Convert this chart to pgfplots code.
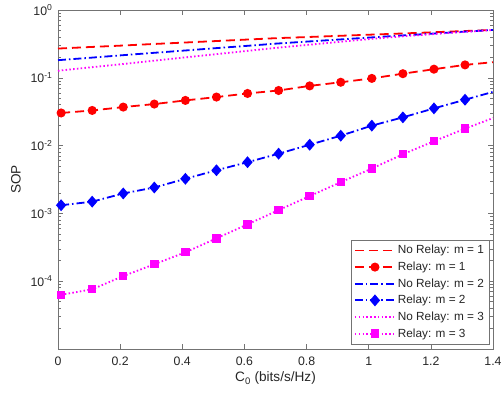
\documentclass[border=0pt]{standalone}
\usepackage{fontspec}
\setmainfont{Liberation Sans}
\usepackage{pgfplots}
\pgfplotsset{compat=1.18}
\definecolor{axgray}{gray}{0.45}
\definecolor{txt}{gray}{0.15}
\definecolor{mag}{rgb}{1,0,1}
\begin{document}
\begin{tikzpicture}
\path[use as bounding box] (0,0) rectangle (501pt,400pt);
\begin{axis}[
    at={(58pt,51pt)}, anchor=south west,
    scale only axis, width=435pt, height=339pt,
    ymode=log,
    xmin=0, xmax=1.4, ymin=1e-5, ymax=1,
    xtick={0,0.2,0.4,0.6,0.8,1,1.2,1.4},
    xticklabels={0,0.2,0.4,0.6,0.8,1,1.2,1.4},
    ytick={1e-4,1e-3,1e-2,1e-1,1},
    yticklabels={10\textsuperscript{-4},10\textsuperscript{-3},10\textsuperscript{-2},10\textsuperscript{-1},10\textsuperscript{0}},
    minor ytick={2e-5,3e-5,4e-5,5e-5,6e-5,7e-5,8e-5,9e-5,
                 2e-4,3e-4,4e-4,5e-4,6e-4,7e-4,8e-4,9e-4,
                 2e-3,3e-3,4e-3,5e-3,6e-3,7e-3,8e-3,9e-3,
                 2e-2,3e-2,4e-2,5e-2,6e-2,7e-2,8e-2,9e-2,
                 0.2,0.3,0.4,0.5,0.6,0.7,0.8,0.9},
    tick align=inside,
    major tick length=5pt, minor tick length=3pt,
    axis line style={axgray, line width=0.8pt},
    every tick/.style={axgray, line width=0.6pt},
    tick label style={font=\fontsize{12.3}{14}\selectfont, text=txt},
    xticklabel style={yshift=-4pt},
    yticklabel style={xshift=-2pt},
    label style={font=\fontsize{13.6}{15}\selectfont, text=txt},
    ylabel style={yshift=3pt},
    xlabel={C\textsubscript{0} (bits/s/Hz)},
    ylabel={SOP},
    legend cell align=left,
    legend style={at={(rel axis cs:0.991,0.015)}, anchor=south east,
        draw=axgray, font=\fontsize{11.8}{13}\selectfont,
        text=txt, row sep=2.6pt, inner sep=3pt},
    legend image code/.code={\draw[mark indices={2}] plot coordinates {(0pt,0pt) (20pt,0pt) (40pt,0pt)};},
]

% No relay, m = 1
\addplot[red, line width=1.8pt, dash pattern=on 9pt off 5pt] coordinates {
(0,0.270) (0.1,0.284) (0.2,0.298) (0.3,0.314) (0.4,0.330) (0.5,0.347) (0.6,0.365)
(0.7,0.384) (0.8,0.399) (0.9,0.415) (1.0,0.432) (1.1,0.449) (1.2,0.468) (1.3,0.488) (1.4,0.508)};
\addlegendentry{No Relay: m = 1}

% Relay, m = 1
\addplot[red, line width=1.8pt, dash pattern=on 9pt off 5pt, mark=*, mark size=3.6pt,
    mark options={solid}, mark indices={1,2,3,4,5,6,7,8,9,10,11,12,13,14}] coordinates {
(0.01,0.0303) (0.11,0.033) (0.21,0.037) (0.31,0.041) (0.41,0.0464) (0.51,0.052) (0.61,0.0588)
(0.71,0.065) (0.81,0.076) (0.91,0.086) (1.01,0.098) (1.11,0.115) (1.21,0.134) (1.31,0.155) (1.4,0.17)};
\addlegendentry{Relay: m = 1}

% No relay, m = 2
\addplot[blue, line width=1.8pt, dash pattern=on 8pt off 3pt on 1.5pt off 3pt] coordinates {
(0,0.182) (0.1,0.197) (0.2,0.214) (0.3,0.232) (0.4,0.251) (0.5,0.272) (0.6,0.294)
(0.7,0.319) (0.8,0.342) (0.9,0.366) (1.0,0.392) (1.1,0.419) (1.2,0.447) (1.3,0.477) (1.4,0.508)};
\addlegendentry{No Relay: m = 2}

% Relay, m = 2
\addplot[blue, line width=1.8pt, dash pattern=on 8pt off 3pt on 1.5pt off 3pt, mark=diamond*, mark size=4.6pt,
    mark options={solid, xscale=1.15}, mark indices={1,2,3,4,5,6,7,8,9,10,11,12,13,14}] coordinates {
(0.01,1.32e-3) (0.11,1.49e-3) (0.21,1.97e-3) (0.31,2.41e-3) (0.41,3.24e-3) (0.51,4.33e-3) (0.61,5.69e-3)
(0.71,7.6e-3) (0.81,1.03e-2) (0.91,1.40e-2) (1.01,1.97e-2) (1.11,2.61e-2) (1.21,3.54e-2) (1.31,4.75e-2) (1.4,6.2e-2)};
\addlegendentry{Relay: m = 2}

% No relay, m = 3
\addplot[mag, line width=1.8pt, dash pattern=on 1.5pt off 2.3pt] coordinates {
(0,0.127) (0.1,0.142) (0.2,0.158) (0.3,0.177) (0.4,0.198) (0.5,0.221) (0.6,0.247)
(0.7,0.276) (0.8,0.305) (0.9,0.337) (1.0,0.372) (1.1,0.406) (1.2,0.439) (1.3,0.472) (1.4,0.508)};
\addlegendentry{No Relay: m = 3}

% Relay, m = 3
\addplot[mag, line width=1.8pt, dash pattern=on 1.5pt off 2.3pt, mark=square*, mark size=3.3pt,
    mark options={solid}, mark indices={1,2,3,4,5,6,7,8,9,10,11,12,13,14}] coordinates {
(0.01,6.3e-5) (0.11,7.6e-5) (0.21,1.19e-4) (0.31,1.78e-4) (0.41,2.67e-4) (0.51,4.29e-4) (0.61,6.89e-4)
(0.71,1.12e-3) (0.81,1.80e-3) (0.91,2.89e-3) (1.01,4.59e-3) (1.11,7.45e-3) (1.21,1.16e-2) (1.31,1.78e-2) (1.4,2.55e-2)};
\addlegendentry{Relay: m = 3}

\end{axis}
\end{tikzpicture}
\end{document}
